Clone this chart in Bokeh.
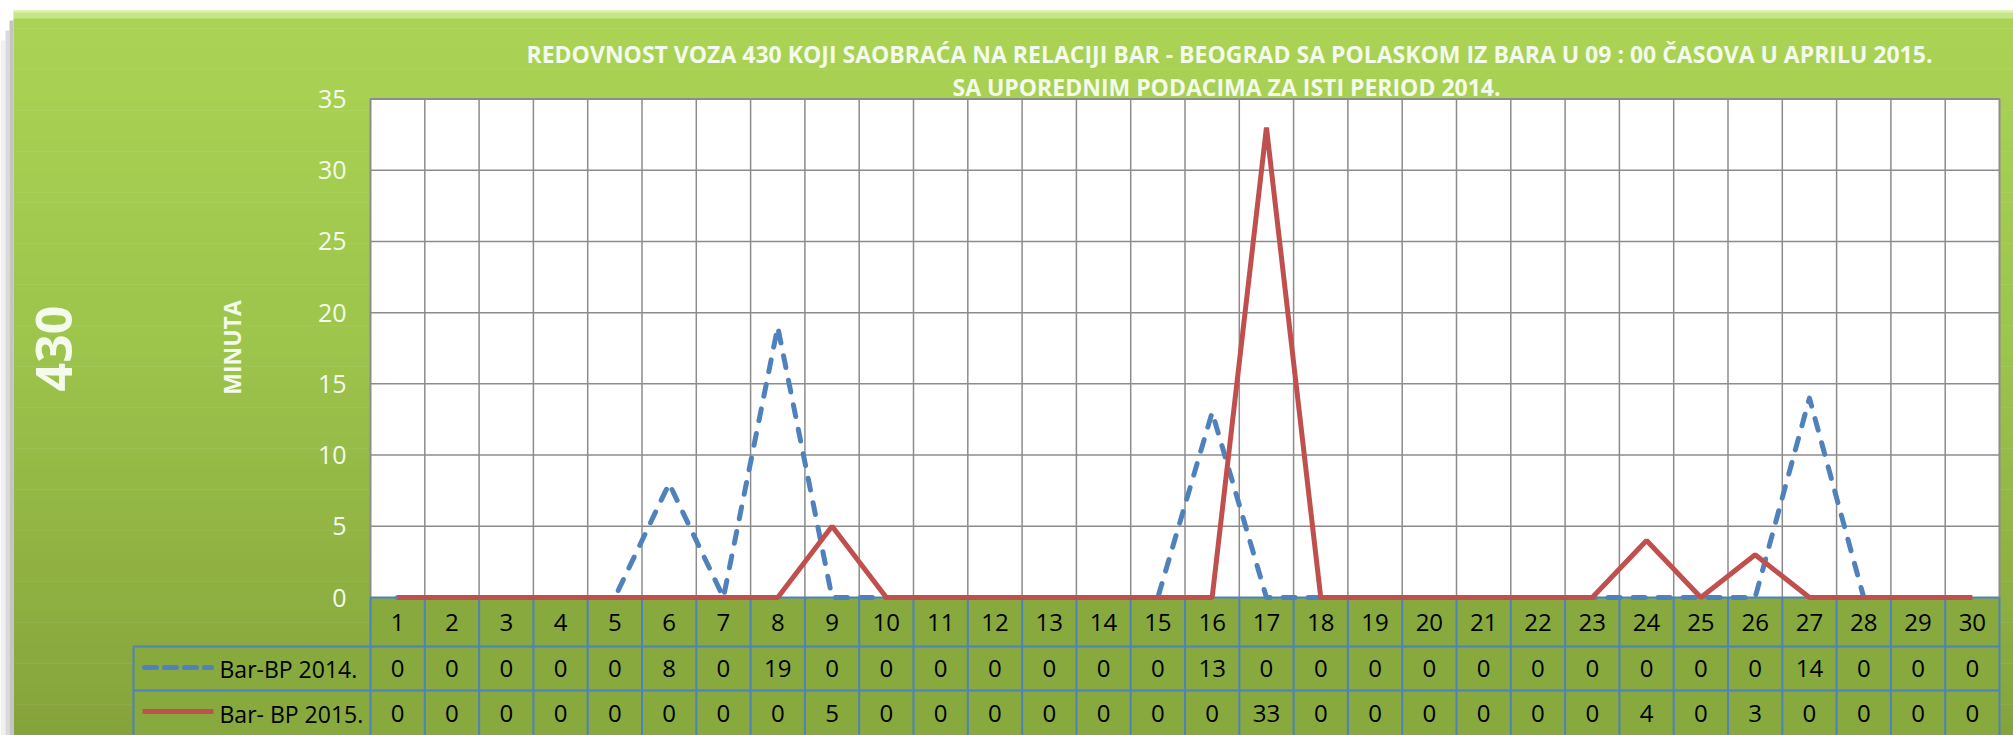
import numpy as np
from bokeh.plotting import figure
from bokeh.models import Range1d
from bokeh.core.properties import value
from bokeh.embed import file_html
from bokeh.resources import INLINE

# ---------------- data ----------------
days = list(range(1, 31))
bp_2014 = [0, 0, 0, 0, 0, 8, 0, 19, 0, 0, 0, 0, 0, 0, 0, 13, 0, 0, 0, 0, 0, 0, 0, 0, 0, 0, 14, 0, 0, 0]
bp_2015 = [0, 0, 0, 0, 0, 0, 0, 0, 5, 0, 0, 0, 0, 0, 0, 0, 33, 0, 0, 0, 0, 0, 0, 4, 0, 3, 0, 0, 0, 0]
series_names = ["Bar-BP 2014.", "Bar- BP 2015."]
y_ticks = [0, 5, 10, 15, 20, 25, 30, 35]
title_lines = [
    "REDOVNOST VOZA 430 KOJI SAOBRAĆA NA RELACIJI BAR - BEOGRAD SA POLASKOM IZ BARA U 09 : 00 ČASOVA U APRILU 2015.",
    "SA  UPOREDNIM PODACIMA ZA ISTI PERIOD 2014.",
]
y_label = "MINUTA"
side_label = "430"

# ---------------- layout (canvas pixels) ----------------
W, H = 2013, 735
PLOT_L, PLOT_R, PLOT_T, PLOT_B = 370.0, 1999.0, 98.5, 597.0
N = len(days)
YMAX = max(y_ticks)
PX = (PLOT_R - PLOT_L) / N
PY = (PLOT_B - PLOT_T) / YMAX
x_start = 0.5 - PLOT_L / PX
x_end = x_start + W / PX
y_top = YMAX + PLOT_T / PY
y_bot = y_top - H / PY


def dx(cx):
    return x_start + cx / PX


def dy(cy):
    return y_top - cy / PY


FONT = value("Open Sans")
LIGHT = "#F4FAEC"
BLUE = "#4F81BD"
RED = "#C0504D"
GRID = "#8C8C8C"

p = figure(width=W, height=H, x_range=Range1d(x_start, x_end), y_range=Range1d(y_bot, y_top),
           x_axis_location=None, y_axis_location=None, toolbar_location=None,
           output_backend="svg", min_border=0, tools="")
p.grid.visible = False
p.outline_line_color = None
p.background_fill_color = "white"
p.border_fill_color = "white"


# ---------------- background panel with gradient ----------------
def hex2rgb(h):
    h = h.lstrip("#")
    return np.array([int(h[i:i + 2], 16) for i in (0, 2, 4)], dtype=float)


stops = [(10, "#ABD455"), (350, "#9DC44B"), (735, "#85A33B")]
nb = 70
edges = np.linspace(18, H, nb + 1)
cols = []
for i in range(nb):
    c = 0.5 * (edges[i] + edges[i + 1])
    for (a, ca), (b, cb) in zip(stops[:-1], stops[1:]):
        if a <= c <= b:
            t = (c - a) / (b - a)
            rgb = hex2rgb(ca) * (1 - t) + hex2rgb(cb) * t
            cols.append("#%02x%02x%02x" % tuple(int(round(v)) for v in rgb))
            break
p.quad(left=[dx(13)] * nb, right=[dx(W + 5)] * nb,
       top=[dy(e - 0.5) for e in edges[:-1]], bottom=[dy(e) for e in edges[1:]],
       fill_color=cols, line_color=None)
# top bevel
p.quad(left=[dx(13)], right=[dx(W + 5)], top=[dy(10)], bottom=[dy(18)], fill_color="#C3E688", line_color=None)
p.quad(left=[dx(13)], right=[dx(W + 5)], top=[dy(10)], bottom=[dy(12)], fill_color="#DDF3AC", line_color=None)
# left shadow
p.quad(left=[dx(0), dx(5), dx(9)], right=[dx(5), dx(9), dx(13)], top=[dy(40), dy(30), dy(20)],
       bottom=[dy(H), dy(H), dy(H)], fill_color=["#F0F0F0", "#DADADA", "#C4C4C4"], line_color=None)

# ---------------- plot area ----------------
p.quad(left=[0.5], right=[N + 0.5], bottom=[0], top=[YMAX], fill_color="white", line_color=None)
hg = [t for t in y_ticks if 0 < t < YMAX]
p.segment(x0=[0.5] * len(hg), x1=[N + 0.5] * len(hg), y0=hg, y1=hg, line_color=GRID, line_width=1.5)
vb = [d + 0.5 for d in days[:-1]]
p.segment(x0=vb, x1=vb, y0=[0] * len(vb), y1=[YMAX] * len(vb), line_color=GRID, line_width=1.5)
p.line(x=[0.5, 0.5, N + 0.5, N + 0.5], y=[0, YMAX, YMAX, 0], line_color=GRID, line_width=2)

# ---------------- data table ----------------
row_cat_b = dy(646)
row1_b = dy(690)
row2_b = dy(736)
leg_l = dx(133)
p.quad(left=[d - 0.5 for d in days] * 3, right=[d + 0.5 for d in days] * 3,
       top=[0] * N + [row_cat_b] * N + [row1_b] * N,
       bottom=[row_cat_b] * N + [row1_b] * N + [row2_b] * N,
       fill_color="#87A93D", line_color=None)
p.quad(left=[leg_l] * 2, right=[0.5] * 2, top=[row_cat_b, row1_b], bottom=[row1_b, row2_b],
       fill_color="#87A93D", line_color=None)
hx0 = [0.5, leg_l, leg_l]
hy = [0, row_cat_b, row1_b]
p.segment(x0=hx0, x1=[N + 0.5] * 3, y0=hy, y1=hy, line_color=BLUE, line_width=2)
vx = [d - 0.5 for d in days] + [N + 0.5]
p.segment(x0=vx, x1=vx, y0=[0] * len(vx), y1=[row2_b] * len(vx), line_color=BLUE, line_width=2)
p.segment(x0=[leg_l], x1=[leg_l], y0=[row_cat_b], y1=[row2_b], line_color=BLUE, line_width=2)

# ---------------- series ----------------
DASH = "12 13"
p.line(days, bp_2014, line_color=BLUE, line_width=5, line_dash=DASH, line_cap="round", line_join="round")
p.line(days, bp_2015, line_color=RED, line_width=5)

# legend keys in table
p.line(x=[dx(144), dx(211)], y=[dy(667)] * 2, line_color=BLUE, line_width=5, line_dash="12 8", line_cap="round")
p.line(x=[dx(142), dx(213)], y=[dy(711)] * 2, line_color=RED, line_width=5)

# ---------------- texts ----------------
TS = "24px"
p.text(x=days, y=[dy(622)] * N, text=[str(d) for d in days], text_align="center", text_baseline="middle",
       text_font=FONT, text_font_size=TS, text_color="black")
p.text(x=days, y=[dy(668)] * N, text=[str(v) for v in bp_2014], text_align="center", text_baseline="middle",
       text_font=FONT, text_font_size=TS, text_color="black")
p.text(x=days, y=[dy(713)] * N, text=[str(v) for v in bp_2015], text_align="center", text_baseline="middle",
       text_font=FONT, text_font_size=TS, text_color="black")
p.text(x=[dx(219)] * 2, y=[dy(668), dy(713)], text=series_names, text_align="left", text_baseline="middle",
       text_font=FONT, text_font_size="23px", text_color="black")

# y tick labels
p.text(x=[dx(346)] * len(y_ticks), y=y_ticks, text=[str(t) for t in y_ticks], text_align="right",
       text_baseline="middle", text_font=FONT, text_font_size="25px", text_color=LIGHT)

# title
p.text(x=[dx(1229)] * 2, y=[dy(53.5), dy(86)], text=title_lines, text_align="center", text_baseline="middle",
       text_font=FONT, text_font_size="23px", text_font_style="bold", text_color=LIGHT)

# axis title and side label
p.text(x=[dx(231)], y=[dy(347)], text=[y_label], angle=np.pi / 2, text_align="center", text_baseline="middle",
       text_font=FONT, text_font_size="23px", text_font_style="bold", text_color=LIGHT)
p.text(x=[dx(53)], y=[dy(348)], text=[side_label], angle=np.pi / 2, text_align="center", text_baseline="middle",
       text_font=FONT, text_font_size="50px", text_font_style="bold", text_color=LIGHT)

open("out.html", "w").write(file_html(p, INLINE))
